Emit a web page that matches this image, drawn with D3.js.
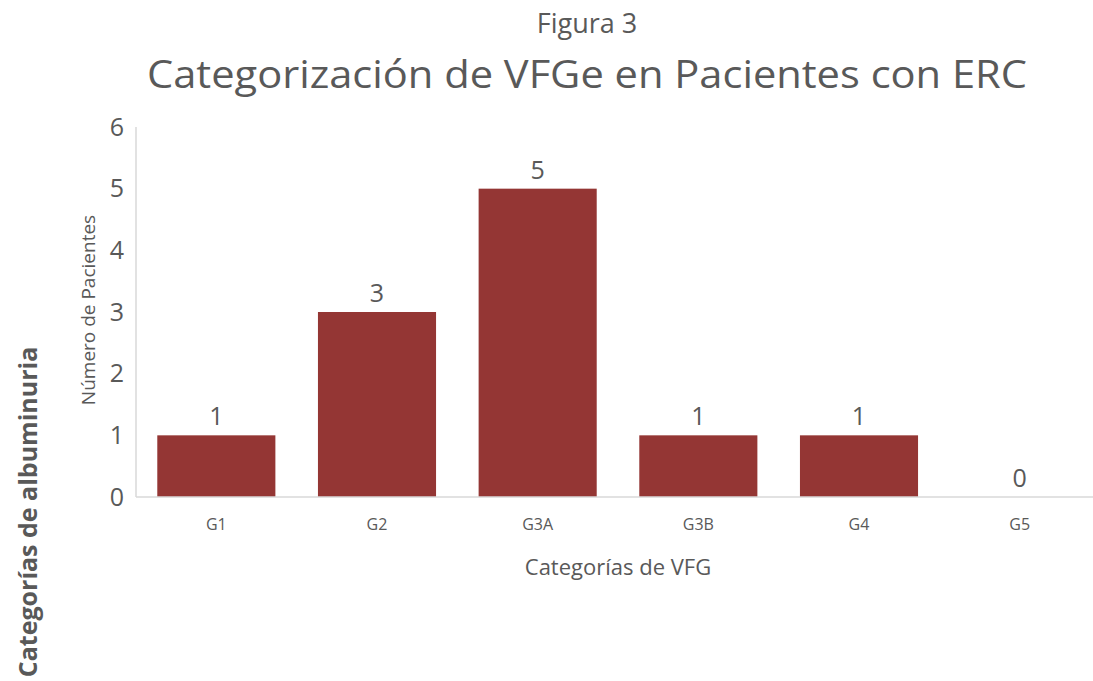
<!DOCTYPE html>
<html>
<head>
<meta charset="utf-8">
<script src="https://cdn.jsdelivr.net/npm/d3@7"></script>
<style>
  body { margin: 0; background: #fff; }
  text { font-family: "Open Sans", sans-serif; fill: #595959; }
</style>
</head>
<body>
<div id="chart"></div>
<script>
var categories = ["G1", "G2", "G3A", "G3B", "G4", "G5"];
var pacientes = [1, 3, 5, 1, 1, 0];
var yTicks = [0, 1, 2, 3, 4, 5, 6];

function init() {
    var w = 1093;
    var h = 681;
    var left = 136, right = 1100, top = 127, bottom = 497;

    var svg = d3.select("#chart")
        .append("svg")
        .attr("width", w)
        .attr("height", h);

    var xScale = d3.scaleBand()
        .domain(categories)
        .range([left, right])
        .paddingInner(0.265)
        .paddingOuter(0.1325);

    var yScale = d3.scaleLinear()
        .domain([0, 6])
        .range([bottom, top]);

    // axis lines
    svg.append("line")
        .attr("x1", left).attr("x2", left)
        .attr("y1", top).attr("y2", bottom)
        .attr("stroke", "#d9d9d9").attr("stroke-width", 1.5);

    // bars
    svg.selectAll("rect.bar")
        .data(categories)
        .enter()
        .append("rect")
        .attr("class", "bar")
        .attr("x", function(d) { return xScale(d); })
        .attr("y", function(d, i) { return yScale(pacientes[i]); })
        .attr("width", xScale.bandwidth())
        .attr("height", function(d, i) { return bottom - yScale(pacientes[i]); })
        .attr("fill", "#943634");

    svg.append("line")
        .attr("x1", left).attr("x2", right)
        .attr("y1", bottom).attr("y2", bottom)
        .attr("stroke", "#d9d9d9").attr("stroke-width", 1.5);

    // y tick labels
    var yAxis = svg.append("g")
        .attr("transform", "translate(" + left + ",0)")
        .call(d3.axisLeft(yScale).tickValues(yTicks).tickFormat(d3.format("d")).tickSize(0).tickPadding(12));
    yAxis.select(".domain").remove();
    yAxis.selectAll("text")
        .attr("font-size", "25px")
        .attr("font-family", "Open Sans, sans-serif")
        .attr("fill", "#595959");

    // x tick labels
    var xAxis = svg.append("g")
        .attr("transform", "translate(0," + bottom + ")")
        .call(d3.axisBottom(xScale).tickSize(0).tickPadding(22));
    xAxis.select(".domain").remove();
    xAxis.selectAll("text")
        .attr("font-size", "16px")
        .attr("font-family", "Open Sans, sans-serif")
        .attr("fill", "#595959");

    // data labels
    svg.selectAll("text.val")
        .data(categories)
        .enter()
        .append("text")
        .attr("class", "val")
        .attr("x", function(d) { return xScale(d) + xScale.bandwidth() / 2; })
        .attr("y", function(d, i) { return yScale(pacientes[i]) - 10; })
        .attr("text-anchor", "middle")
        .attr("font-size", "25px")
        .text(function(d, i) { return pacientes[i]; });

    // titles
    svg.append("text")
        .attr("x", 587).attr("y", 33)
        .attr("text-anchor", "middle")
        .attr("font-size", "27px")
        .text("Figura 3");

    svg.append("text")
        .attr("x", 587).attr("y", 88)
        .attr("text-anchor", "middle")
        .attr("font-size", "38px")
        .attr("textLength", 880)
        .attr("lengthAdjust", "spacingAndGlyphs")
        .text("Categorización de VFGe en Pacientes con ERC");

    svg.append("text")
        .attr("x", 618).attr("y", 575)
        .attr("text-anchor", "middle")
        .attr("font-size", "22px")
        .text("Categorías de VFG");

    svg.append("text")
        .attr("transform", "translate(95,310) rotate(-90)")
        .attr("text-anchor", "middle")
        .attr("font-size", "19px")
        .text("Número de Pacientes");

    svg.append("text")
        .attr("transform", "translate(37,512) rotate(-90)")
        .attr("text-anchor", "middle")
        .attr("font-size", "25px")
        .attr("font-weight", "bold")
        .text("Categorías de albuminuria");
}

window.onload = init;
</script>
</body>
</html>
